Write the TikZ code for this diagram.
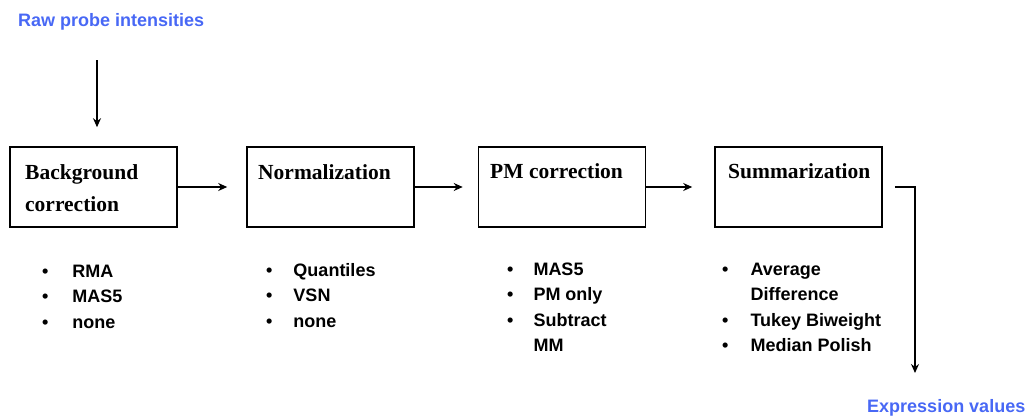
\documentclass[tikz,border=0pt]{standalone}
\usepackage{fontspec}
\setmainfont{Liberation Serif}
\setsansfont{Liberation Sans}
\usetikzlibrary{positioning, arrows.meta}
\definecolor{linkblue}{RGB}{72,104,245}

\begin{document}
\begin{tikzpicture}[
    x=1pt, y=-1pt,
    stage/.style={draw, line width=1.6pt, minimum width=167pt, minimum height=80pt, inner sep=0pt},
    stage_label/.style={anchor=base west, inner sep=0pt, font=\fontsize{21.5}{32}\selectfont\bfseries},
    method_list/.style={anchor=base west, inner sep=0pt, font=\fontsize{18}{25.5}\selectfont\sffamily\bfseries},
    io_label/.style={anchor=base west, inner sep=0pt, text=linkblue, font=\fontsize{18}{22}\selectfont\sffamily\bfseries},
    flow/.style={-{Stealth[length=9pt, width=8pt]}, line width=1.9pt}
]
    \useasboundingbox (0,0) rectangle (1035,416);

    % --- INPUT ---
    \node[io_label] (raw) at (18,26) {Raw probe intensities};
    \coordinate (rawstart) at (97,60);

    % --- PIPELINE STAGES ---
    \node[stage] (bg)   at (93.5,187) {};
    \node[stage] (norm) at (330.5,187) {};
    \node[stage] (pm)   at (562,187) {};
    \node[stage] (summ) at (798.5,187) {};

    \node[stage_label] (bg-text)   at (25,179)  {\begin{tabular}[t]{@{}l@{}}Background\\correction\end{tabular}};
    \node[stage_label] (norm-text) at (258,179) {Normalization};
    \node[stage_label] (pm-text)   at (490,178) {PM correction};
    \node[stage_label] (summ-text) at (728,178) {Summarization};

    % --- METHODS BELOW EACH STAGE ---
    \node[method_list] (bg-list) at (42,277) {\begin{tabular}[t]{@{}l@{\hspace{24pt}}l@{}}
        \textbullet & RMA\\ \textbullet & MAS5\\ \textbullet & none\end{tabular}};
    \node[method_list] (norm-list) at (266,276) {\begin{tabular}[t]{@{}l@{\hspace{21pt}}l@{}}
        \textbullet & Quantiles\\ \textbullet & VSN\\ \textbullet & none\end{tabular}};
    \node[method_list] (pm-list) at (507,275) {\begin{tabular}[t]{@{}l@{\hspace{20pt}}l@{}}
        \textbullet & MAS5\\ \textbullet & PM only\\ \textbullet & Subtract\\ & MM\end{tabular}};
    \node[method_list] (summ-list) at (722,275) {\begin{tabular}[t]{@{}l@{\hspace{22pt}}l@{}}
        \textbullet & Average\\ & Difference\\ \textbullet & Tukey Biweight\\ \textbullet & Median Polish\end{tabular}};

    % --- OUTPUT ---
    \node[io_label] (expr) at (867,412) {Expression values};
    \coordinate (exprend) at (915,373);

    % --- CONNECTIONS ---
    \draw[flow, shorten >=19pt] (rawstart) -- (rawstart |- bg.north);
    \draw[flow, shorten >=19pt] (bg.east) -- (norm.west);
    \draw[flow, shorten >=15pt] (norm.east) -- (pm.west);
    \draw[flow, shorten >=22pt] (pm.east) -- (summ.west);
    \draw[flow] ([xshift=12pt]summ.east) -| (exprend);

\end{tikzpicture}
\end{document}
